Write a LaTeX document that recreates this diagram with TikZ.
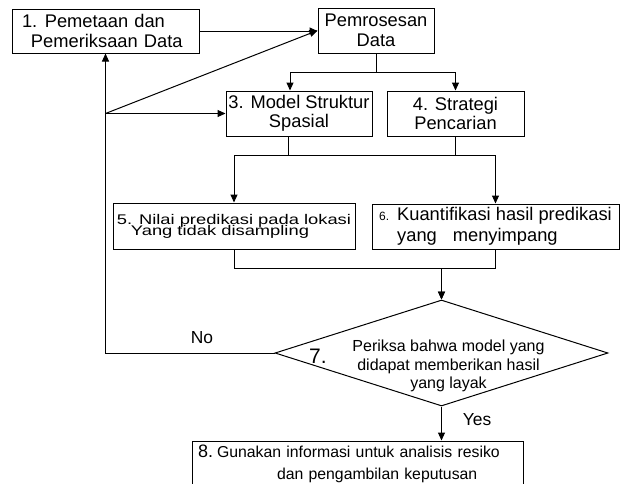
\documentclass[tikz,border=0pt]{standalone}
\usepackage{fontspec}
\setmainfont{Liberation Sans}
\newfontfamily\widefont[FakeStretch=1.31]{Liberation Sans}
\newcommand\tightfont{\widefont\fontsize{7}{5.5}\selectfont\lineskiplimit=-10pt\relax}
\usetikzlibrary{arrows.meta, positioning, shapes.geometric}

\begin{document}
\begin{tikzpicture}[
    x=0.5pt, y=-0.5pt,
    font=\fontsize{9.15}{9.75}\selectfont,
    box/.style={
        draw, line width=0.5pt, inner sep=0pt,
        minimum height=22.5pt, align=center
    },
    lbox/.style={
        draw, line width=0.5pt, inner ysep=0pt,
        minimum height=22.5pt, align=left
    },
    lbl/.style={inner sep=0pt, font=\fontsize{8.7}{9.75}\selectfont},
    arrow/.style={-{Triangle[length=4pt, width=3.5pt]}, line width=0.5pt}
]
\useasboundingbox (0,0) rectangle (621,483);

% -- top row --
\node[lbox, inner xsep=5pt, text width=83.5pt, minimum height=22pt] (mapping) at (105.5,31)
    {1.\hspace{3.8pt}Pemetaan dan\\\hspace*{4.5pt}Pemeriksaan Data};
\node[box, minimum width=58pt] (processing) at (376,30.5) {Pemrosesan\\Data};

% -- second row --
\node[box, minimum width=73pt] (structure) at (299,113.5) {3. Model Struktur\\Spasial};
\node[box, minimum width=68.5pt] (search) at (455.5,113.5) {4. Strategi\\Pencarian};

% -- third row --
\node[lbox, inner xsep=0pt, minimum width=121pt, minimum height=23pt, font=\tightfont] (predict) at (234,226)
    {5. Nilai predikasi pada lokasi\\\hspace*{7pt}Yang tidak disampling};
\node[lbox, inner xsep=0pt, minimum width=123.5pt] (quantify) at (495.5,226.5)
    {\makebox[9pt][l]{\fontsize{6}{6}\selectfont 6.}Kuantifikasi hasil predikasi\\[0.8pt]\hspace*{9pt}yang\hspace{8pt}menyimpang};

% -- check and result --
\node[draw, diamond, line width=0.5pt, inner sep=0pt,
      minimum width=166.5pt, minimum height=53pt] (check) at (441.5,353) {};
\node[lbl, align=center, font=\fontsize{8}{9.25}\selectfont] (checktext) at (448.5,366)
    {Periksa bahwa model yang\\didapat memberikan hasil\\yang layak};
\node[lbl, font=\fontsize{10.5}{10}\selectfont] (checknum) at (318,356) {7.};
\node[lbox, inner xsep=3pt, text width=159.5pt, font=\fontsize{7.9}{11}\selectfont] (decision) at (357.5,463.5)
    {\makebox[9.5pt][l]{\fontsize{9}{9}\selectfont 8.}Gunakan informasi untuk analisis resiko\\\hspace*{39.5pt}dan pengambilan keputusan};

\node[lbl] (nolbl) at (202,338) {No};
\node[lbl] (yeslbl) at (477,420) {Yes};

% -- connectors --
\coordinate (split) at (mapping.south |- structure.west);
\draw[arrow] (mapping.east) -- (mapping.east -| processing.west);
\draw[arrow] (split) -- (processing.west);
\draw[arrow] (split) -- (structure.west);
\draw[arrow] (processing.south) -- ++(0,19) -| ([xshift=-4.5pt]structure.north);
\draw[arrow] (processing.south) -- ++(0,19) -| (search.north);
\draw[arrow] ([xshift=-5.5pt]structure.south) -- ++(0,19) -| (quantify.north);
\draw[arrow] (search.south) -- ++(0,19) -| (predict.north);
\draw[arrow] (predict.south) -- ++(0,19) -| (check.north);
\draw[arrow] (quantify.south) -- ++(0,19) -| (check.north);
\draw[arrow] (check.south) -- (check.south |- decision.north);
\draw[arrow] (check.west) -| (mapping.south);

\end{tikzpicture}
\end{document}
